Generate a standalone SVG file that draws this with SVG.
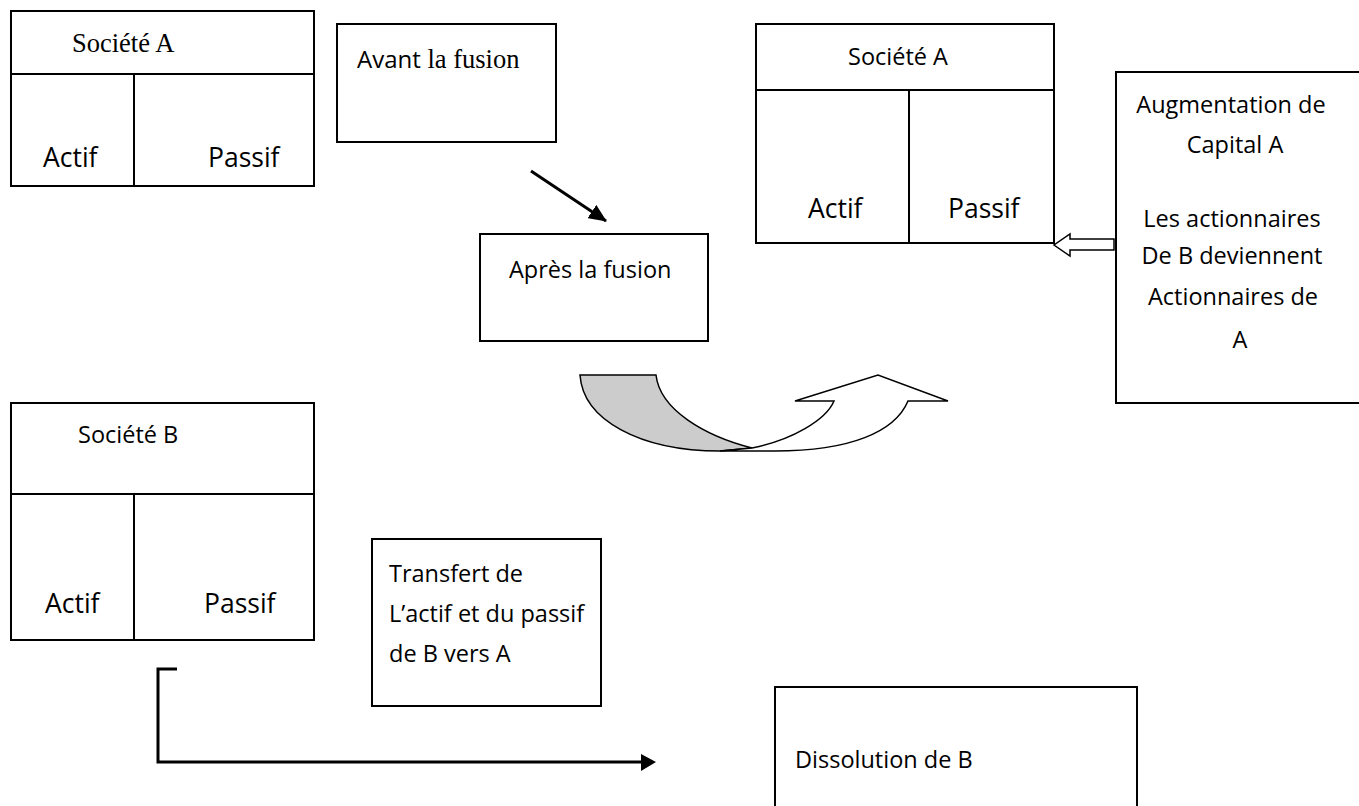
<svg xmlns="http://www.w3.org/2000/svg" width="1359" height="806" viewBox="0 0 1359 806">
<style>
.b{fill:#fff;stroke:#000;stroke-width:2}
.l{stroke:#000;stroke-width:2;fill:none}
.s{font-family:"Open Sans","Liberation Sans",sans-serif;font-size:23.5px;fill:#000}
.k{font-size:26.5px}
.t{font-family:"Liberation Serif","Times New Roman",serif;font-size:26.5px;fill:#000}
.m{text-anchor:middle}
</style>
<defs>
<marker id="ah" markerWidth="18" markerHeight="16" refX="17" refY="8" orient="auto" markerUnits="userSpaceOnUse" viewBox="0 0 18 16"><path d="M0,0 L18,8 L0,16 Z" fill="#000"/></marker>
</defs>
<rect width="1359" height="806" fill="#fff"/>
<g id="societe-a-avant">
<rect class="b" x="11" y="11" width="303" height="175"/>
<line class="l" x1="11" y1="74" x2="314" y2="74"/>
<line class="l" x1="134" y1="74" x2="134" y2="186"/>
<text class="t" x="72" y="52">Société A</text>
<text class="s k" x="43" y="167">Actif</text>
<text class="s k" x="208" y="167">Passif</text>
</g>
<g id="avant-fusion">
<rect class="b" x="337" y="24" width="219" height="118"/>
<text class="t" x="357" y="68"><tspan class="s" style="font-size:24px">Avant</tspan> la fusion</text>
</g>
<g id="apres-fusion">
<rect class="b" x="480" y="234" width="228" height="107"/>
<text class="s" x="509" y="278">Après la fusion</text>
</g>
<g id="societe-a-apres">
<rect class="b" x="756" y="24" width="298" height="219"/>
<line class="l" x1="756" y1="90" x2="1054" y2="90"/>
<line class="l" x1="909" y1="90" x2="909" y2="243"/>
<text class="s" x="848" y="65">Société A</text>
<text class="s k" x="808" y="218">Actif</text>
<text class="s k" x="948" y="218">Passif</text>
</g>
<g id="augmentation">
<rect class="b" x="1116" y="72" width="250" height="331"/>
<text class="s m" x="1231" y="113">Augmentation de</text>
<text class="s m" x="1235" y="153">Capital A</text>
<text class="s m" x="1232" y="227">Les actionnaires</text>
<text class="s m" x="1232" y="264">De B deviennent</text>
<text class="s m" x="1233" y="305">Actionnaires de</text>
<text class="s m" x="1240" y="348">A</text>
</g>
<g id="societe-b">
<rect class="b" x="11" y="403" width="303" height="237"/>
<line class="l" x1="11" y1="494" x2="314" y2="494"/>
<line class="l" x1="134" y1="494" x2="134" y2="640"/>
<text class="s" x="78" y="443">Société B</text>
<text class="s k" x="45" y="613">Actif</text>
<text class="s k" x="204" y="613">Passif</text>
</g>
<g id="transfert">
<rect class="b" x="372" y="539" width="229" height="167"/>
<text class="s" x="389" y="582">Transfert de</text>
<text class="s" x="389" y="622">L’actif et du passif</text>
<text class="s" x="389" y="662">de B vers A</text>
</g>
<g id="dissolution">
<rect class="b" x="775" y="687" width="362" height="130"/>
<text class="s" x="795" y="768">Dissolution de B</text>
</g>
<g id="connectors">
<line x1="531" y1="171" x2="606" y2="221" stroke="#000" stroke-width="3" marker-end="url(#ah)"/>
<path d="M1114,239 L1070,239 L1070,234 L1054,245 L1070,256 L1070,250 L1114,250 Z" fill="#fff" stroke="#000" stroke-width="1.5"/>
<path d="M580,375 L656,375 C660,410 705,436 752,448 L720,451 C640,451 583,420 580,375 Z" fill="#cccccc" stroke="#000" stroke-width="1.5"/>
<path d="M752,448 C792,440 826,420 834,401 L795,401 L878,375 L948,401 L908,401 C895,432 850,451 775,451 L720,451 Z" fill="#fff" stroke="#000" stroke-width="1.5"/>
<path d="M177,669 L158,669 L158,762 L645,762" fill="none" stroke="#000" stroke-width="3"/>
<path d="M641,754 L656,762 L641,771 Z" fill="#000"/>
</g>
</svg>
